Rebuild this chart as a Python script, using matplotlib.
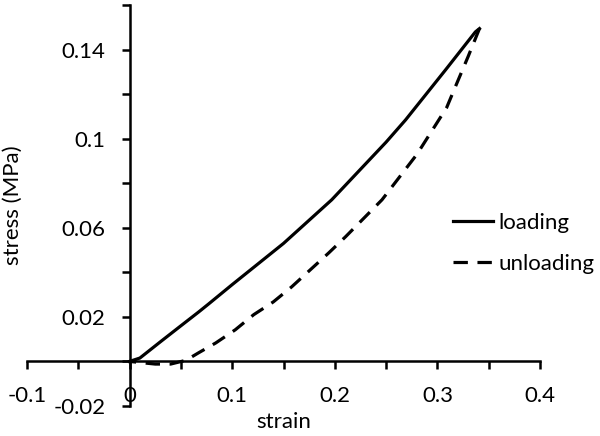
import matplotlib
matplotlib.use("Agg")
from matplotlib import pyplot as plt
import numpy as np

plt.rcParams['font.family'] = ['Lato', 'DejaVu Sans']

# loading curve (strain, stress in MPa)
load_strain = [0.0, 0.01, 0.03, 0.05, 0.0673, 0.077, 0.1, 0.15, 0.197, 0.25, 0.269, 0.308, 0.337, 0.341]
load_stress = [0.0, 0.0015, 0.0088, 0.016, 0.0222, 0.0258, 0.0345, 0.053, 0.0726, 0.0985, 0.1085, 0.131, 0.148, 0.1495]

# unloading curve
unload_strain = [0.341, 0.33, 0.319, 0.309, 0.28, 0.246, 0.2105, 0.194, 0.158, 0.14, 0.121, 0.103, 0.084, 0.067, 0.055, 0.04, 0.025, 0.01, 0.0]
unload_stress = [0.1495, 0.137, 0.125, 0.114, 0.093, 0.0726, 0.056, 0.0487, 0.0335, 0.0267, 0.021, 0.0142, 0.0083, 0.0038, 0.0005, -0.0012, -0.0012, -0.0005, 0.0]

x_ticks = [-0.1, 0, 0.1, 0.2, 0.3, 0.4]
x_labels = ['-0.1', '0', '0.1', '0.2', '0.3', '0.4']
y_ticks = [-0.02, 0.02, 0.06, 0.1, 0.14]
y_labels = ['-0.02', '0.02', '0.06', '0.1', '0.14']

fs = 16

fig = plt.figure(figsize=(6, 4.36), dpi=100)
ax = fig.add_axes([0.045, 0.069, 0.855, 0.919])

ax.plot(load_strain, load_stress, color='black', lw=2.3, label='loading')
ax.plot(unload_strain, unload_stress, color='black', lw=2.3, dashes=(4.5, 3), label='unloading')

ax.set_xlim(-0.1, 0.4)
ax.set_ylim(-0.02, 0.16)

ax.spines['top'].set_visible(False)
ax.spines['right'].set_visible(False)
ax.spines['left'].set_position(('data', 0))
ax.spines['bottom'].set_position(('data', 0))
for s in ['left', 'bottom']:
    ax.spines[s].set_linewidth(1.8)

ax.set_xticks(x_ticks)
ax.set_xticklabels(x_labels)
ax.set_xticks(np.arange(-0.05, 0.4, 0.1), minor=True)
ax.set_yticks(y_ticks)
ax.set_yticklabels(y_labels)
ax.set_yticks(np.arange(0.0, 0.161, 0.04), minor=True)

ax.tick_params(which='both', direction='out', length=6, width=1.8, labelsize=fs)
ax.tick_params(axis='both', pad=11.5)

ax.set_xlabel('strain', fontsize=fs)
ax.set_ylabel('stress (MPa)', fontsize=fs)
ax.xaxis.set_label_coords(0.5, -0.015)
ax.yaxis.set_label_coords(-0.008, 0.5)

ax.legend(loc='center left', bbox_to_anchor=(0.83, 0.405), frameon=False, fontsize=fs,
          handlelength=1.8, handletextpad=0.25, labelspacing=0.95, borderaxespad=0,
          borderpad=0)

fig.savefig('out.png', dpi=100)
